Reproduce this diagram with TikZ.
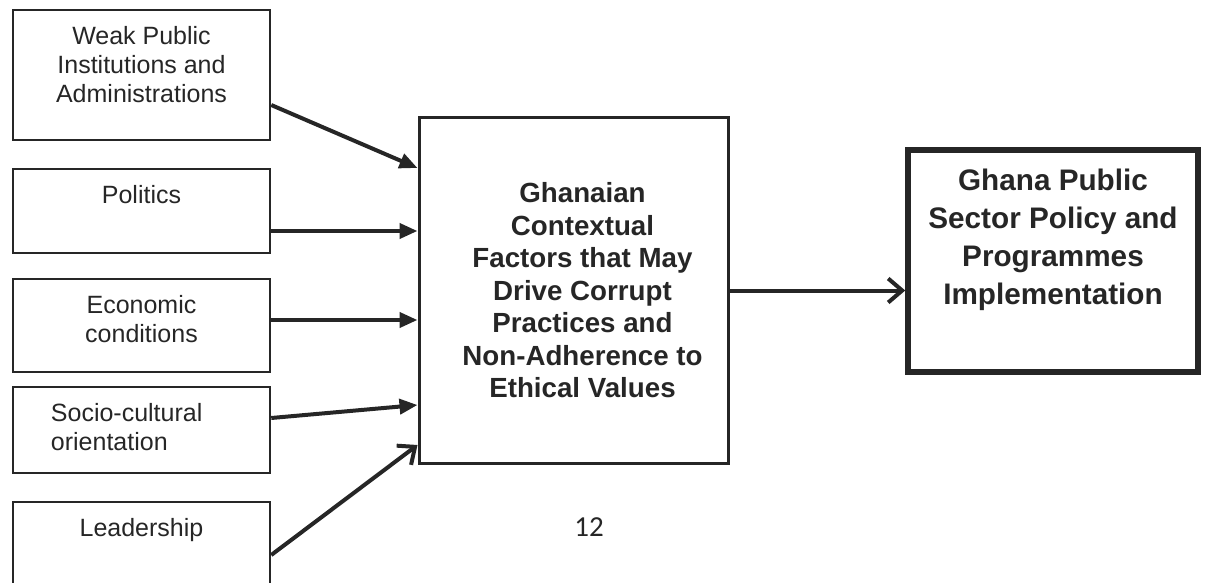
\documentclass[tikz,border=0pt]{standalone}
\usepackage{fontspec}
\setmainfont{Liberation Sans}
\newfontfamily\pagefont{Carlito}
\usetikzlibrary{arrows.meta, calc}

\begin{document}
\begin{tikzpicture}[
    x=1pt, y=-1pt,
    every node/.style={text=black!85},
    factor/.style={draw=black!85, line width=2.5pt, minimum width=257pt, inner sep=0pt},
    factortext/.style={font=\fontsize{25}{29}\selectfont, align=center, inner sep=0pt, anchor=north, yshift=-17pt},
    feed/.style={draw=black!85, line width=4pt, -{Triangle[length=18pt, width=15pt]}},
    openfeed/.style={draw=black!85, line width=4pt, -{Straight Barb[length=14pt, width=24pt]}}
]
   \useasboundingbox (0,0) rectangle (1216,583);

   % Factors on the left
   \node[factor, minimum height=130pt] (weak) at (141.5,75)
       [label={[factortext]north:{Weak Public\\Institutions and\\Administrations}}] {};
   \node[factor, minimum height=84pt] (politics) at (141.5,211)
       [label={[factortext]north:Politics}] {};
   \node[factor, minimum height=93pt] (econ) at (141.5,325.5)
       [label={[factortext]north:{Economic\\conditions}}] {};
   \node[factor, minimum height=86pt] (socio) at (141.5,430)
       [label={[factortext, align=left, anchor=north west, xshift=39pt]north west:{Socio-cultural\\orientation}}] {};
   \node[factor, minimum height=100pt] (leader) at (141.5,552)
       [label={[factortext]north:Leadership}] {};

   % Contextual factors and outcome
   \node[draw=black!85, line width=3pt, minimum width=309pt, minimum height=345pt] (ctx) at (573.5,290.5)
       [label={[font=\bfseries\fontsize{27.7}{32.5}\selectfont, align=center, xshift=9pt]center:{Ghanaian\\Contextual\\Factors that May\\Drive Corrupt\\Practices and\\Non-Adherence to\\Ethical Values}}] {};
   \node[draw=black!85, line width=5.5pt, minimum width=290pt, minimum height=222pt] (impl) at (1053,261)
       [label={[font=\bfseries\fontsize{29.7}{38}\selectfont, align=center, inner sep=0pt, anchor=north, yshift=-22pt]north:{Ghana Public\\Sector Policy and\\Programmes\\Implementation}}] {};

   \node[font=\pagefont\fontsize{29}{32}\selectfont] (pagenum) at (589,527) {12};

   % Arrows into the contextual factors
   \draw[feed] ($(weak.east)+(0,30)$) -- ($(ctx.west)+(0,-122.5)$);
   \draw[feed] ($(politics.east)+(0,20)$) -- ($(ctx.west)+(0,-59.5)$);
   \draw[feed] ($(econ.east)+(0,-5.5)$) -- ($(ctx.west)+(0,29.5)$);
   \draw[feed] ($(socio.east)+(0,-12)$) -- ($(ctx.west)+(0,114.5)$);
   \draw[openfeed] ($(leader.east)+(0,3)$) -- ($(ctx.west)+(0,154.5)$);
   \draw[openfeed] (ctx.east) -- (ctx.east -| impl.west);
\end{tikzpicture}
\end{document}
